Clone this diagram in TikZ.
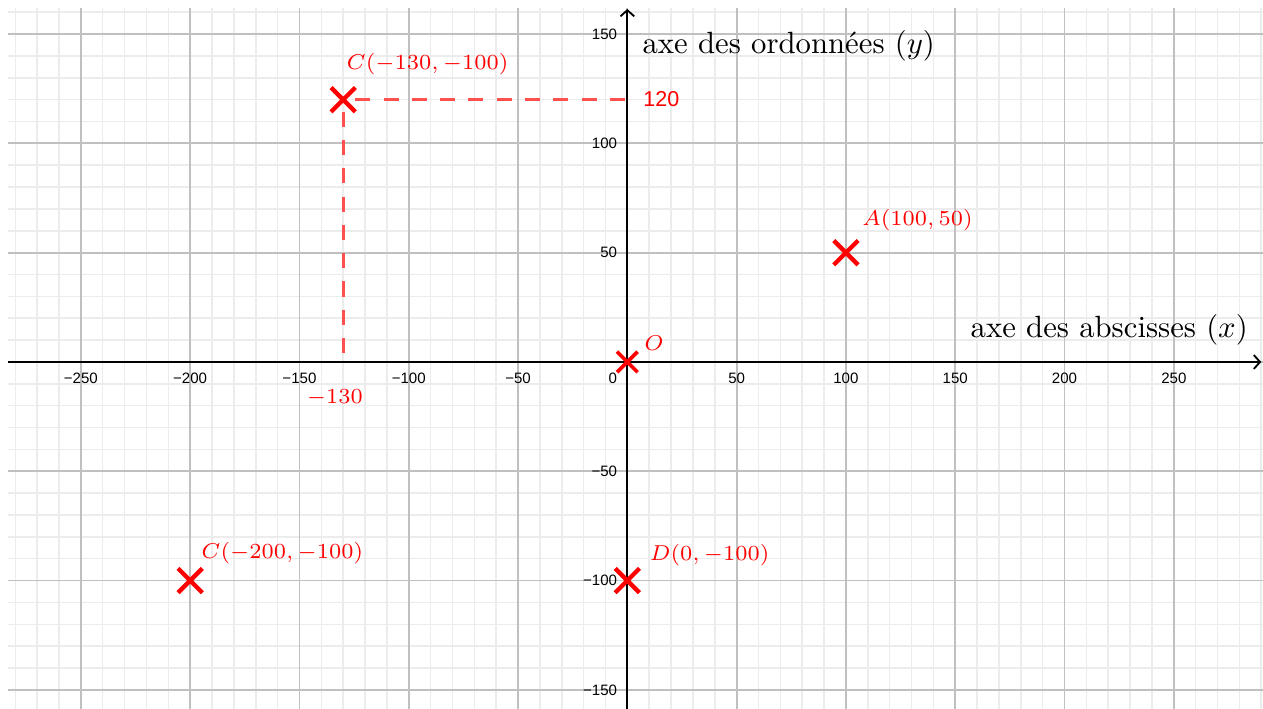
\documentclass[tikz,border=0pt]{standalone}
\usepackage{fontspec}
\usepackage{tikz}
\usetikzlibrary{arrows.meta, shapes.misc}

\newfontfamily\ggbfont{Liberation Sans}
\definecolor{rouge}{RGB}{255,0,0}
\definecolor{rougeclair}{RGB}{255,80,80}
\definecolor{grismaj}{RGB}{192,192,192}
\definecolor{grismin}{RGB}{236,236,236}

\begin{document}
\begin{tikzpicture}[
            x = 0.025cm, y = 0.025cm, % one unit of the plane
            > = {Straight Barb[length=2pt, width=4.5pt]}, % axis tips
            axe/.style = {line width=0.6pt, black}
        ]

        \tikzstyle{croix}=[
            draw = rouge,
            cross out,
            line width = 1.4pt,
            minimum size = 6.5pt,
            inner sep = 0pt
        ]
        \tikzstyle{etiq}=[text=rouge, font=\fontsize{7.5}{9}\selectfont, inner sep=0pt]
        \tikzstyle{grad}=[font=\ggbfont\fontsize{4.9}{5}\selectfont, inner sep=0pt]
        \tikzstyle{pointille}=[draw=rougeclair, line width=0.9pt, dash pattern=on 4.9pt off 4.3pt]

	\useasboundingbox (-287,-158.7) rectangle (290.8,165.6);

	% grid
	\draw[grismin, line width=0.5pt] (-283.3,-158.7) grid[step=10] (290.8,161.9);
	\draw[grismaj, line width=0.6pt] (-283.3,-158.7) grid[step=50] (290.8,161.9);

	% axes
	\coordinate (xg) at (-283.3,0);
	\coordinate (xd) at (290,0);
	\coordinate (yb) at (0,-158.7);
	\coordinate (yh) at (0,161.5);
	\draw[axe, ->] (xg) -- (xd);
	\draw[axe, ->] (yb) -- (yh);

	\foreach \x/\lab in {-250/−250, -200/−200, -150/−150, -100/−100, -50/−50, 50/50, 100/100, 150/150, 200/200, 250/250}
	    \node[grad] (gx\x) at (\x,-7.3) {\lab};
	\node[grad] (g0) at (-6.7,-7.3) {0};
	\foreach \y/\lab in {150/150, 100/100, 50/50, -50/−50, -100/−100, -150/−150}
	    \node[grad, anchor=east] (gy\y) at (-4.4,\y) {\lab};

	\node[anchor=west, inner sep=0pt] (ordo) at (6.7,144.6) {axe des ordonnées $(y)$};
	\node[anchor=east, inner sep=0pt] (absc) at (284.1,14.5) {axe des abscisses $(x)$};

	% points
	\coordinate (Cy) at (0,120);
	\coordinate (Cx) at (-130,0);
	\node[croix] (C) at (-130,120) {};
	\path[pointille] (C) -- (Cy);
	\path[pointille] (C) -- (Cx);
	\node[croix] (A) at (100,50) {};
	\node[croix, minimum size=5.5pt, line width=1.2pt] (O) at (0,0) {};
	\node[croix] (C2) at (-200,-100) {};
	\node[croix] (D) at (0,-100) {};

	\node[etiq, anchor=west] (lC) at (-128.7,136.3) {$C(-130,-100)$};
	\node[etiq, anchor=west, font=\ggbfont\fontsize{7}{8}\selectfont] (l120) at (7.1,120.3) {120};
	\node[etiq] (l130) at (-133.8,-16.5) {$-130$};
	\node[etiq] (lO) at (12.2,8.7) {$O$};
	\node[etiq, anchor=west] (lA) at (107.2,65) {$A(100,50)$};
	\node[etiq, anchor=west] (lC2) at (-195.1,-87.5) {$C(-200,-100)$};
	\node[etiq, anchor=west] (lD) at (10,-88.3) {$D(0,-100)$};

\end{tikzpicture}
\end{document}
